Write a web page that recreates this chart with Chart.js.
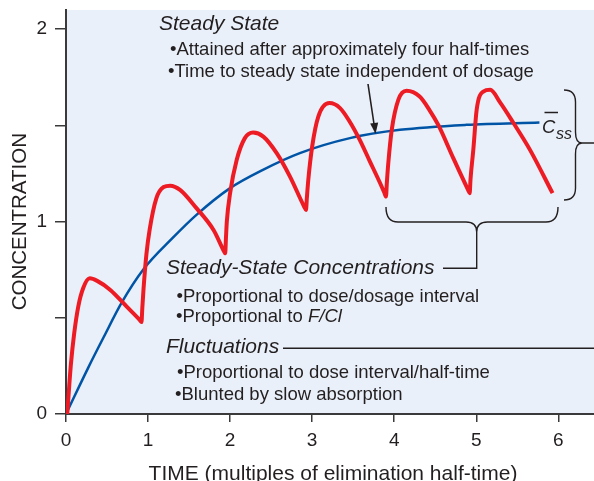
<!DOCTYPE html>
<html>
<head>
<meta charset="utf-8">
<script src="https://cdn.jsdelivr.net/npm/chart.js@4.4.1/dist/chart.umd.min.js"></script>
<style>
  html, body { margin: 0; padding: 0; background: #fff; }
  #wrap { width: 594px; height: 481px; }
</style>
</head>
<body>
<div id="wrap"><canvas id="chart"></canvas></div>
<script>
// axis ticks
const timeTicks = [0, 1, 2, 3, 4, 5, 6];
const concTicks = [0, 0.5, 1, 1.5, 2];
const concTickLabels = ['0', '', '1', '', '2'];

// repeated oral doses (red)
const doseTime = [
  0.015, 0.04, 0.06, 0.10, 0.15, 0.21, 0.29, 0.38, 0.54, 0.74, 0.90, 0.92,
  0.93, 0.945, 0.98, 1.02, 1.10, 1.19, 1.27, 1.39, 1.59, 1.80, 1.92, 1.94,
  1.95, 1.96, 2.00, 2.08, 2.18, 2.28, 2.405, 2.568, 2.73, 2.90, 2.925,
  2.935, 2.953, 3.00, 3.075, 3.21, 3.34, 3.46, 3.58, 3.70, 3.826, 3.88, 3.90,
  3.91, 3.928, 3.97, 4.05, 4.15, 4.31, 4.43, 4.54, 4.72, 4.90, 4.92,
  4.93, 4.964, 5.005, 5.086, 5.17, 5.29, 5.45, 5.655, 5.93
];
const doseConc = [
  0.0, 0.15, 0.26, 0.42, 0.56, 0.655, 0.705, 0.692, 0.645, 0.558, 0.488, 0.478,
  0.55, 0.65, 0.83, 0.96, 1.12, 1.18, 1.187, 1.165, 1.07, 0.955, 0.85, 0.835,
  0.92, 1.00, 1.148, 1.32, 1.434, 1.463, 1.442, 1.356, 1.234, 1.08, 1.061,
  1.12, 1.217, 1.39, 1.546, 1.616, 1.59, 1.518, 1.425, 1.316, 1.202, 1.15, 1.13,
  1.20, 1.304, 1.477, 1.633, 1.68, 1.65, 1.58, 1.50, 1.33, 1.165, 1.148,
  1.22, 1.373, 1.581, 1.676, 1.685, 1.62, 1.515, 1.373, 1.148
];

// average concentration (blue)
const meanTime = [0, 0.27, 0.46, 0.68, 0.94, 1.30, 1.59, 2.00, 2.40, 2.85, 3.46, 4.07, 4.88, 5.77];
const meanConc = [0, 0.24, 0.40, 0.58, 0.75, 0.915, 1.035, 1.174, 1.269, 1.356, 1.434, 1.477, 1.503, 1.515];

const ink = '#231f20';
const axisColor = '#3a3a3a';
const family = '"Liberation Sans", Arial, Helvetica, sans-serif';

const toPoints = (xs, ys) => xs.map((x, i) => ({ x: x, y: ys[i] }));

const annotate = {
  id: 'annotate',
  beforeDraw(chart) {
    const { ctx, chartArea: a } = chart;
    ctx.save();
    ctx.fillStyle = '#e9f0f9';
    ctx.fillRect(a.left, a.top, a.right - a.left, a.bottom - a.top);
    ctx.restore();
  },
  afterDraw(chart) {
    const ctx = chart.ctx;
    const head = 'italic 21px ' + family;
    const body = '18.5px ' + family;
    ctx.save();
    ctx.fillStyle = ink;
    ctx.strokeStyle = ink;
    ctx.textAlign = 'left';
    ctx.textBaseline = 'alphabetic';
    const txt = (s, x, y, font) => {
      ctx.font = font;
      ctx.fillText(s, x, y);
      return ctx.measureText(s).width;
    };

    // axis titles
    ctx.font = '21px ' + family;
    ctx.textAlign = 'center';
    ctx.fillText('TIME (multiples of elimination half-time)', 333, 480);
    ctx.save();
    ctx.translate(26, 221.7);
    ctx.rotate(-Math.PI / 2);
    ctx.font = '20.5px ' + family;
    ctx.fillText('CONCENTRATION', 0, 0);
    ctx.restore();
    ctx.textAlign = 'left';

    txt('Steady State', 159, 29.5, head);
    txt('\u2022Attained after approximately four half-times', 170, 55, body);
    txt('\u2022Time to steady state independent of dosage', 168, 76.7, body);

    txt('Steady-State Concentrations', 166, 274, head);
    txt('\u2022Proportional to dose/dosage interval', 176.5, 301.7, body);
    const w = txt('\u2022Proportional to ', 176, 321.7, body);
    txt('F/Cl', 176 + w, 321.7, 'italic 18.5px ' + family);

    txt('Fluctuations', 166, 353, head);
    txt('\u2022Proportional to dose interval/half-time', 177, 378, body);
    txt('\u2022Blunted by slow absorption', 175, 400, body);

    // C-bar ss label
    txt('C', 542, 133.3, 'italic 18.5px ' + family);
    txt('ss', 556, 138.5, 'italic 16px ' + family);

    ctx.lineWidth = 1.5;
    ctx.beginPath();
    ctx.moveTo(544.5, 112.5); ctx.lineTo(558, 112.5);
    ctx.stroke();

    // connector lines and braces
    ctx.lineWidth = 1.4;
    ctx.beginPath();
    ctx.moveTo(283, 348.3); ctx.lineTo(594, 348.3);
    ctx.stroke();

    ctx.beginPath();
    ctx.moveTo(386, 207);
    ctx.quadraticCurveTo(386, 222, 398, 222);
    ctx.lineTo(466, 222);
    ctx.quadraticCurveTo(476.7, 222, 476.7, 232);
    ctx.quadraticCurveTo(476.7, 222, 487.5, 222);
    ctx.lineTo(546, 222);
    ctx.quadraticCurveTo(558, 222, 558, 207);
    ctx.moveTo(476.7, 232);
    ctx.lineTo(476.7, 268.3);
    ctx.lineTo(443, 268.3);
    ctx.stroke();

    ctx.beginPath();
    ctx.moveTo(564, 90);
    ctx.quadraticCurveTo(575.5, 90, 575.5, 102);
    ctx.lineTo(575.5, 132);
    ctx.quadraticCurveTo(575.5, 143, 582, 143);
    ctx.quadraticCurveTo(575.5, 143, 575.5, 154);
    ctx.lineTo(575.5, 188);
    ctx.quadraticCurveTo(575.5, 200, 564, 200);
    ctx.moveTo(582, 143);
    ctx.lineTo(594, 143);
    ctx.stroke();

    // arrow to the mean curve
    ctx.lineWidth = 1.6;
    ctx.beginPath();
    ctx.moveTo(368, 84);
    ctx.lineTo(374, 124);
    ctx.stroke();
    ctx.beginPath();
    ctx.moveTo(375.5, 134);
    ctx.lineTo(378.2, 122.4);
    ctx.lineTo(370.2, 123.6);
    ctx.closePath();
    ctx.fill();

    ctx.restore();
  }
};

new Chart(document.getElementById('chart'), {
  type: 'line',
  data: {
    datasets: [
      {
        label: 'Oral doses',
        data: toPoints(doseTime, doseConc),
        borderColor: '#ed1c24',
        borderWidth: 4,
        pointRadius: 0,
        cubicInterpolationMode: 'monotone',
        fill: false
      },
      {
        label: 'Mean',
        data: toPoints(meanTime, meanConc),
        borderColor: '#0054a6',
        borderWidth: 2.5,
        pointRadius: 0,
        cubicInterpolationMode: 'monotone',
        fill: false
      }
    ]
  },
  options: {
    responsive: true,
    maintainAspectRatio: false,
    animation: false,
    layout: { padding: { top: 10, right: 0, bottom: 0, left: 0 } },
    plugins: {
      legend: { display: false },
      tooltip: { enabled: false }
    },
    scales: {
      x: {
        type: 'linear',
        min: 0,
        max: 6.435,
        afterBuildTicks: (scale) => { scale.ticks = timeTicks.map((v) => ({ value: v })); },
        afterFit: (scale) => {
          scale.height = 67;
          scale.paddingLeft = 0;
          scale.paddingRight = 0;
        },
        ticks: {
          color: ink,
          font: { family: family, size: 19 },
          padding: 7,
          maxRotation: 0,
          autoSkip: false,
          callback: (v) => String(v)
        },
        grid: { drawOnChartArea: false, drawTicks: true, tickLength: 8, color: axisColor, lineWidth: 1.5 },
        border: { display: true, color: axisColor, width: 2 }
      },
      y: {
        min: 0,
        max: 2.1,
        afterBuildTicks: (scale) => { scale.ticks = concTicks.map((v) => ({ value: v })); },
        afterFit: (scale) => {
          scale.width = 66;
          scale.paddingTop = 0;
          scale.paddingBottom = 0;
        },
        ticks: {
          color: ink,
          font: { family: family, size: 19 },
          padding: 8,
          autoSkip: false,
          callback: (v, i) => concTickLabels[i]
        },
        grid: { drawOnChartArea: false, drawTicks: true, tickLength: 11, color: axisColor, lineWidth: 1.5 },
        border: { display: true, color: axisColor, width: 2 }
      }
    }
  },
  plugins: [annotate]
});
</script>
</body>
</html>
